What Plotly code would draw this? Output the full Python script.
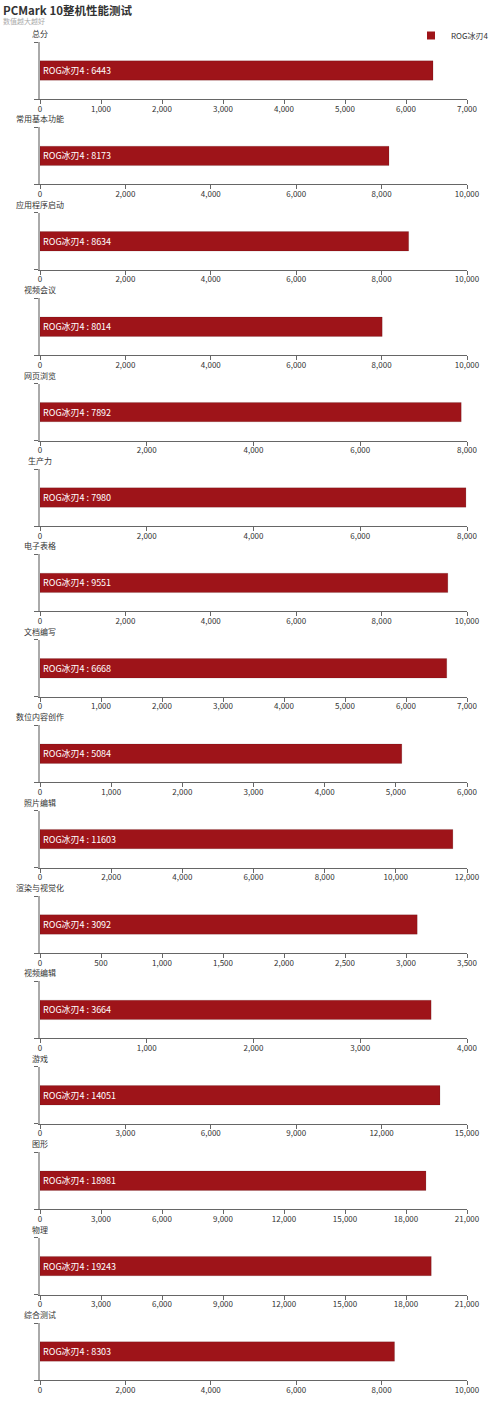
import plotly.graph_objects as go

# 每个分项一张小图
titles = ["总分", "常用基本功能", "应用程序启动", "视频会议", "网页浏览", "生产力", "电子表格", "文档编写",
          "数位内容创作", "照片编辑", "渲染与视觉化", "视频编辑", "游戏", "图形", "物理", "综合测试"]
scores = [6443, 8173, 8634, 8014, 7892, 7980, 9551, 6668, 5084, 11603, 3092, 3664, 14051, 18981, 19243, 8303]
axis_max = [7000, 10000, 10000, 10000, 8000, 8000, 10000, 7000, 6000, 12000, 3500, 4000, 15000, 21000, 21000, 10000]
tick_step = [1000, 2000, 2000, 2000, 2000, 2000, 2000, 1000, 1000, 2000, 500, 1000, 3000, 3000, 3000, 2000]
series = "ROG冰刃4"

W, H = 500, 1415
bar_color = "#9e1419"
font = "Noto Sans CJK SC, Microsoft YaHei, sans-serif"

fig = go.Figure()
annotations = []
layout_axes = {}

for i in range(len(titles)):
    n = "" if i == 0 else str(i + 1)
    axis_y = 99 + 85.4 * i
    top_y = axis_y - 57
    fig.add_trace(go.Bar(
        x=[scores[i]], y=[0], orientation="h", width=0.34,
        name=series, showlegend=False,
        marker=dict(color=bar_color, line=dict(color="rgba(0,0,0,0.12)", width=1)),
        text=[series + " : " + str(scores[i])], textposition="inside",
        insidetextanchor="start", textfont=dict(color="white", size=9, family=font),
        hoverinfo="skip", xaxis="x" + n, yaxis="y" + n))
    layout_axes["xaxis" + n] = dict(
        domain=[40 / W, 467 / W], anchor="y" + n, range=[0, axis_max[i]], automargin=False,
        tick0=0, dtick=tick_step[i], tickformat=",d", showgrid=False, zeroline=False,
        showline=True, linecolor="#666", linewidth=1, ticks="outside", ticklen=4,
        ticklabelstandoff=-2,
        tickcolor="#666", tickfont=dict(size=8, color="#333", family=font), fixedrange=True)
    layout_axes["yaxis" + n] = dict(
        domain=[1 - axis_y / H, 1 - top_y / H], anchor="x" + n, range=[-0.5, 0.5], automargin=False,
        showgrid=False, zeroline=False, showline=True, linecolor="#aaa", linewidth=2,
        tickvals=[-0.5, 0.5], ticks="outside", ticklen=4, tickcolor="#666",
        showticklabels=False, fixedrange=True)
    annotations.append(dict(
        text=titles[i], x=40 / W, y=1 - (top_y - 1) / H, xref="paper", yref="paper",
        xanchor="center", yanchor="bottom", showarrow=False,
        font=dict(size=8, color="#333", family=font)))

# 图例用的空系列
fig.add_trace(go.Scatter(x=[None], y=[None], mode="markers", name=series,
                         marker=dict(symbol="square", size=8, color=bar_color)))

annotations.append(dict(text="<b>PCMark 10整机性能测试</b>", x=1 / W, y=1, xref="paper", yref="paper",
                        xanchor="left", yanchor="top", showarrow=False,
                        font=dict(size=11.5, color="#333", family=font)))
annotations.append(dict(text="数值越大越好", x=1 / W, y=1 - 14 / H, xref="paper", yref="paper",
                        xanchor="left", yanchor="top", showarrow=False,
                        font=dict(size=7, color="#aaa", family=font)))

fig.update_layout(
    width=W, height=H, margin=dict(l=0, r=0, t=0, b=0, autoexpand=False),
    paper_bgcolor="white", plot_bgcolor="white",
    annotations=annotations,
    legend=dict(x=411 / W, y=1 - 21 / H, xanchor="left", yanchor="top",
                font=dict(size=8, color="#333", family=font), bgcolor="rgba(0,0,0,0)",
                itemwidth=30),
    uniformtext=dict(minsize=9, mode="show"),
    **layout_axes)

fig.write_html("out.html", config={"displayModeBar": False},
               post_script="document.body.style.margin='0';document.body.style.overflow='hidden';")
